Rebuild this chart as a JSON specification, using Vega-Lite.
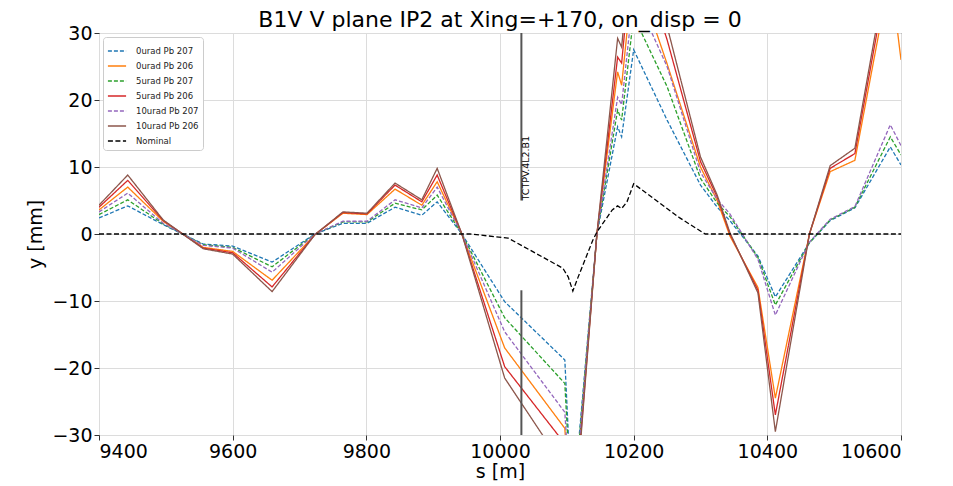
{
  "$schema": "https://vega.github.io/schema/vega-lite/v6.json",
  "width": 802,
  "height": 402,
  "autosize": {"type": "none"},
  "padding": {"left": 99, "top": 33, "right": 52, "bottom": 51},
  "background": "white",
  "title": {"text": "B1V V plane IP2 at Xing=+170, on_disp = 0", "frame": "group", "anchor": "middle", "fontSize": 22, "font": "DejaVu Sans", "fontWeight": "normal", "color": "black", "offset": -8},
  "config": {
    "view": {"stroke": "#333333", "strokeWidth": 1},
    "axis": {"labelFont": "DejaVu Sans", "labelFontSize": 19, "labelColor": "black", "titleFont": "DejaVu Sans", "titleFontSize": 19, "titleFontWeight": "normal", "titleColor": "black", "tickColor": "#333333", "tickSize": 5, "labelPadding": 2, "domain": false, "gridColor": "#dcdcdc", "gridWidth": 1},
    "legend": {"orient": "top-left", "offset": 4, "padding": 4, "fillColor": "white", "strokeColor": "#cccccc", "cornerRadius": 3, "labelFont": "DejaVu Sans", "labelFontSize": 8.5, "labelColor": "#222222", "symbolType": "stroke", "symbolSize": 330, "symbolStrokeWidth": 1.5, "rowPadding": 0, "labelOffset": 9}
  },
  "layer": [
    {
      "data": {"values": [
        {"s": 9400, "0urad Pb 207": 2.4, "0urad Pb 206": 3.6, "5urad Pb 207": 2.9, "5urad Pb 206": 4.0, "10urad Pb 207": 3.3, "10urad Pb 206": 4.3},
        {"s": 9443, "0urad Pb 207": 4.2, "0urad Pb 206": 7.0, "5urad Pb 207": 5.1, "5urad Pb 206": 8.0, "10urad Pb 207": 6.1, "10urad Pb 206": 8.8},
        {"s": 9496, "0urad Pb 207": 1.4, "0urad Pb 206": 1.9, "5urad Pb 207": 1.5, "5urad Pb 206": 2.0, "10urad Pb 207": 1.6, "10urad Pb 206": 2.1},
        {"s": 9556, "0urad Pb 207": -1.5, "0urad Pb 206": -2.0, "5urad Pb 207": -1.6, "5urad Pb 206": -2.1, "10urad Pb 207": -1.7, "10urad Pb 206": -2.2},
        {"s": 9600, "0urad Pb 207": -1.8, "0urad Pb 206": -2.6, "5urad Pb 207": -2.0, "5urad Pb 206": -2.8, "10urad Pb 207": -2.1, "10urad Pb 206": -3.0},
        {"s": 9659, "0urad Pb 207": -4.2, "0urad Pb 206": -6.9, "5urad Pb 207": -4.9, "5urad Pb 206": -7.9, "10urad Pb 207": -5.7, "10urad Pb 206": -8.6},
        {"s": 9723, "0urad Pb 207": 0, "0urad Pb 206": -0.1, "5urad Pb 207": 0, "5urad Pb 206": -0.1, "10urad Pb 207": 0, "10urad Pb 206": -0.1},
        {"s": 9765, "0urad Pb 207": 1.6, "0urad Pb 206": 3.1, "5urad Pb 207": 1.8, "5urad Pb 206": 3.2, "10urad Pb 207": 1.9, "10urad Pb 206": 3.3},
        {"s": 9801, "0urad Pb 207": 1.6, "0urad Pb 206": 2.9, "5urad Pb 207": 1.8, "5urad Pb 206": 3.0, "10urad Pb 207": 1.9, "10urad Pb 206": 3.1},
        {"s": 9843, "0urad Pb 207": 4.0, "0urad Pb 206": 6.7, "5urad Pb 207": 4.6, "5urad Pb 206": 7.3, "10urad Pb 207": 5.1, "10urad Pb 206": 7.6},
        {"s": 9883, "0urad Pb 207": 2.8, "0urad Pb 206": 4.3, "5urad Pb 207": 3.6, "5urad Pb 206": 4.8, "10urad Pb 207": 3.9, "10urad Pb 206": 5.1},
        {"s": 9906, "0urad Pb 207": 4.8, "0urad Pb 206": 7.8, "5urad Pb 207": 5.8, "5urad Pb 206": 8.8, "10urad Pb 207": 7.0, "10urad Pb 206": 9.8},
        {"s": 9943, "0urad Pb 207": 0, "0urad Pb 206": 0, "5urad Pb 207": 0, "5urad Pb 206": 0, "10urad Pb 207": 0, "10urad Pb 206": 0},
        {"s": 10007, "0urad Pb 207": -10.1, "0urad Pb 206": -17.0, "5urad Pb 207": -12.5, "5urad Pb 206": -19.8, "10urad Pb 207": -14.6, "10urad Pb 206": -21.5},
        {"s": 10097, "0urad Pb 207": -18.8, "0urad Pb 206": -29.0, "5urad Pb 207": -22.3, "5urad Pb 206": -31.3, "10urad Pb 207": -26.6, "10urad Pb 206": -35.0},
        {"s": 10108, "0urad Pb 207": -42, "0urad Pb 206": -45, "5urad Pb 207": -43, "5urad Pb 206": -46, "10urad Pb 207": -44, "10urad Pb 206": -47},
        {"s": 10145, "0urad Pb 207": 0, "0urad Pb 206": 0, "5urad Pb 207": 0, "5urad Pb 206": 0, "10urad Pb 207": 0, "10urad Pb 206": 0},
        {"s": 10176, "0urad Pb 207": 16.0, "0urad Pb 206": 24.2, "5urad Pb 207": 18.5, "5urad Pb 206": 26.4, "10urad Pb 207": 20.4, "10urad Pb 206": 29.2},
        {"s": 10182, "0urad Pb 207": 14.5, "0urad Pb 206": 22.2, "5urad Pb 207": 17.0, "5urad Pb 206": 25.5, "10urad Pb 207": 19.3, "10urad Pb 206": 27.9},
        {"s": 10200, "0urad Pb 207": 27.5, "0urad Pb 206": 40, "5urad Pb 207": 32.5, "5urad Pb 206": 44.5, "10urad Pb 207": 36, "10urad Pb 206": 47},
        {"s": 10250, "0urad Pb 207": 17, "0urad Pb 206": 25.4, "5urad Pb 207": 22, "5urad Pb 206": 29, "10urad Pb 207": 25, "10urad Pb 206": 31},
        {"s": 10300, "0urad Pb 207": 7.3, "0urad Pb 206": 10, "5urad Pb 207": 8.3, "5urad Pb 206": 10.8, "10urad Pb 207": 9.2, "10urad Pb 206": 11.5},
        {"s": 10325, "0urad Pb 207": 4.0, "0urad Pb 206": 5.0, "5urad Pb 207": 4.6, "5urad Pb 206": 5.5, "10urad Pb 207": 5.2, "10urad Pb 206": 5.8},
        {"s": 10344, "0urad Pb 207": 2.0, "0urad Pb 206": -0.3, "5urad Pb 207": 2.6, "5urad Pb 206": 0, "10urad Pb 207": 3.0, "10urad Pb 206": 0.2},
        {"s": 10386, "0urad Pb 207": -3.3, "0urad Pb 206": -8.0, "5urad Pb 207": -3.5, "5urad Pb 206": -8.4, "10urad Pb 207": -3.8, "10urad Pb 206": -8.8},
        {"s": 10412, "0urad Pb 207": -9.4, "0urad Pb 206": -24.5, "5urad Pb 207": -10.6, "5urad Pb 206": -27, "10urad Pb 207": -12.1, "10urad Pb 206": -29.5},
        {"s": 10463, "0urad Pb 207": -1.3, "0urad Pb 206": 0, "5urad Pb 207": -1.3, "5urad Pb 206": 0, "10urad Pb 207": -1.2, "10urad Pb 206": 0},
        {"s": 10494, "0urad Pb 207": 2.0, "0urad Pb 206": 9.3, "5urad Pb 207": 2.1, "5urad Pb 206": 9.8, "10urad Pb 207": 2.2, "10urad Pb 206": 10.2},
        {"s": 10531, "0urad Pb 207": 3.9, "0urad Pb 206": 11, "5urad Pb 207": 4.0, "5urad Pb 206": 12, "10urad Pb 207": 4.1, "10urad Pb 206": 12.8},
        {"s": 10584, "0urad Pb 207": 13, "0urad Pb 206": 39, "5urad Pb 207": 14.5, "5urad Pb 206": 41, "10urad Pb 207": 16.3, "10urad Pb 206": 42.5},
        {"s": 10600, "0urad Pb 207": 10.3, "0urad Pb 206": 26, "5urad Pb 207": 11.8, "5urad Pb 206": 30, "10urad Pb 207": 13.2, "10urad Pb 206": 31.5},
        {"s": 9400, "Nominal": 0},
        {"s": 9955, "Nominal": 0},
        {"s": 10012, "Nominal": -0.6},
        {"s": 10094, "Nominal": -5.1},
        {"s": 10102, "Nominal": -6.4},
        {"s": 10109, "Nominal": -8.5},
        {"s": 10117, "Nominal": -6.4},
        {"s": 10139, "Nominal": -0.9},
        {"s": 10145, "Nominal": 0.3},
        {"s": 10168, "Nominal": 3.6},
        {"s": 10176, "Nominal": 4.2},
        {"s": 10182, "Nominal": 3.8},
        {"s": 10190, "Nominal": 4.8},
        {"s": 10200, "Nominal": 7.5},
        {"s": 10269, "Nominal": 2.4},
        {"s": 10307, "Nominal": 0},
        {"s": 10600, "Nominal": 0}
      ]},
      "transform": [
        {"fold": ["0urad Pb 207", "0urad Pb 206", "5urad Pb 207", "5urad Pb 206", "10urad Pb 207", "10urad Pb 206", "Nominal"], "as": ["series", "y"]},
        {"filter": "isValid(datum.y)"}
      ],
      "mark": {"type": "line", "clip": true, "strokeWidth": 1.3},
      "encoding": {
        "x": {"field": "s", "type": "quantitative", "scale": {"domain": [9400, 10600], "nice": false, "zero": false}, "axis": {"title": "s [m]", "values": [9400, 9600, 9800, 10000, 10200, 10400, 10600], "format": "d", "titlePadding": 1}},
        "y": {"field": "y", "type": "quantitative", "scale": {"domain": [-30, 30], "nice": false}, "axis": {"title": "y [mm]", "values": [-30, -20, -10, 0, 10, 20, 30], "format": "d", "titlePadding": 6}},
        "color": {"field": "series", "type": "nominal", "scale": {"domain": ["0urad Pb 207", "0urad Pb 206", "5urad Pb 207", "5urad Pb 206", "10urad Pb 207", "10urad Pb 206", "Nominal"], "range": ["#1f77b4", "#ff7f0e", "#2ca02c", "#d62728", "#9467bd", "#8c564b", "#000000"]}, "legend": {"title": null}},
        "strokeDash": {"field": "series", "type": "nominal", "scale": {"domain": ["0urad Pb 207", "0urad Pb 206", "5urad Pb 207", "5urad Pb 206", "10urad Pb 207", "10urad Pb 206", "Nominal"], "range": [[4, 2], [1, 0], [4, 2], [1, 0], [4, 2], [1, 0], [5, 2.5]]}, "legend": {"title": null}}
      }
    },
    {
      "data": {"values": [
        {"s": 10032, "a": 5, "b": 30},
        {"s": 10032, "a": -8.4, "b": -30}
      ]},
      "mark": {"type": "rule", "color": "#555555", "strokeWidth": 2},
      "encoding": {
        "x": {"field": "s", "type": "quantitative"},
        "y": {"field": "a", "type": "quantitative"},
        "y2": {"field": "b"}
      }
    },
    {
      "data": {"values": [{"s": 10032, "y": 5, "label": "TCTPV.4L2.B1"}]},
      "mark": {"type": "text", "angle": 270, "align": "left", "baseline": "middle", "dy": 5, "font": "DejaVu Sans", "fontSize": 9.5, "color": "black"},
      "encoding": {
        "x": {"field": "s", "type": "quantitative"},
        "y": {"field": "y", "type": "quantitative"},
        "text": {"field": "label"}
      }
    }
  ]
}
